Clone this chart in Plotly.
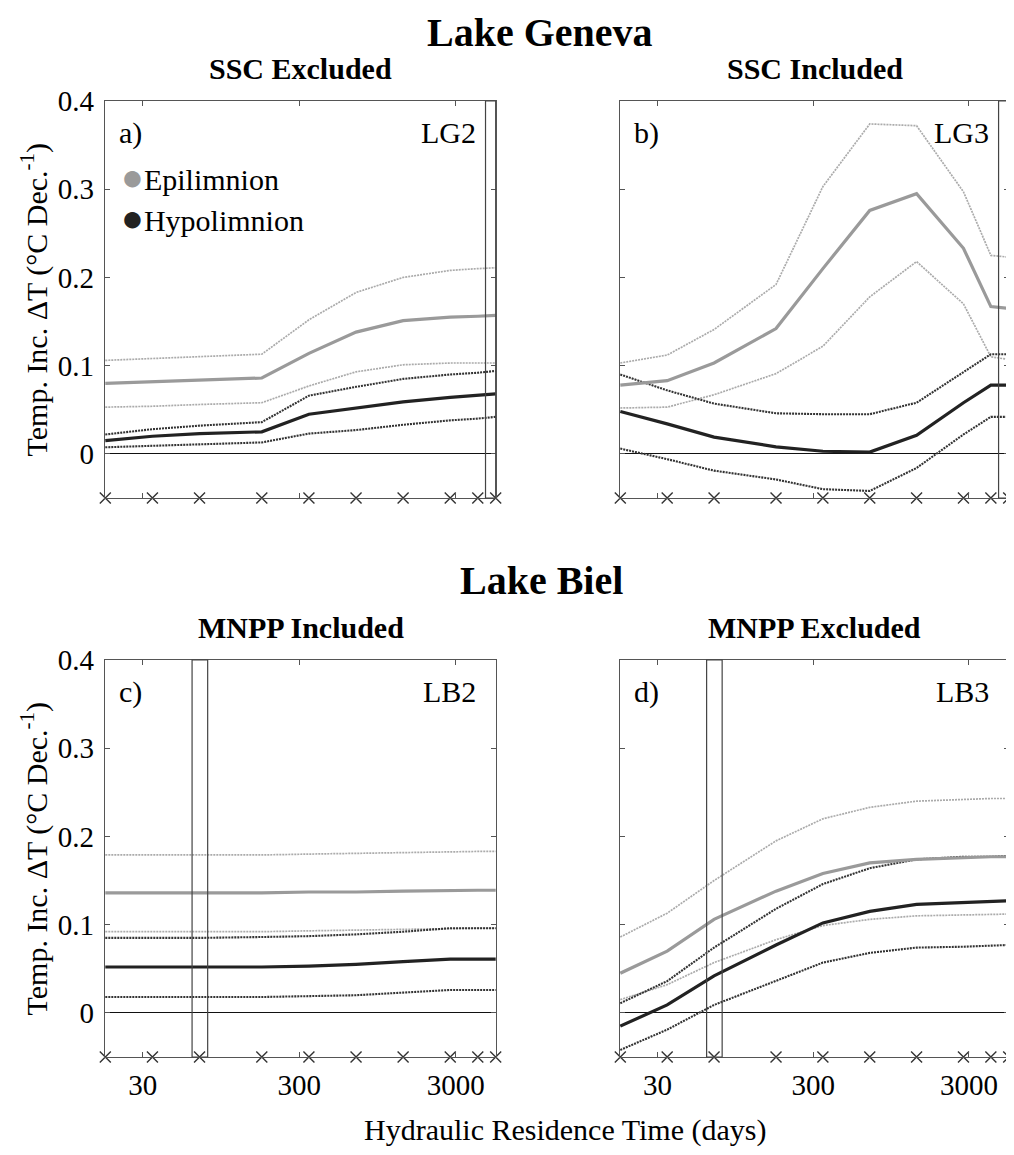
import numpy as np
import plotly.graph_objects as go

# ---------------- data ----------------
res_time = [17.3, 34.6, 69.2, 173, 346, 692, 1383, 2767, 4150, 5400]  # days

# Panel a) LG2 - Lake Geneva, SSC excluded
a_epi_mean = [0.080, 0.082, 0.084, 0.086, 0.114, 0.138, 0.151, 0.155, 0.156, 0.157]
a_epi_up   = [0.106, 0.108, 0.110, 0.113, 0.152, 0.183, 0.200, 0.208, 0.210, 0.211]
a_epi_lo   = [0.053, 0.054, 0.056, 0.058, 0.077, 0.093, 0.101, 0.103, 0.103, 0.103]
a_hyp_mean = [0.015, 0.020, 0.023, 0.025, 0.045, 0.052, 0.059, 0.064, 0.066, 0.068]
a_hyp_up   = [0.022, 0.028, 0.032, 0.036, 0.066, 0.076, 0.085, 0.090, 0.092, 0.094]
a_hyp_lo   = [0.0075, 0.0094, 0.011, 0.013, 0.023, 0.027, 0.033, 0.038, 0.040, 0.042]

# Panel b) LG3 - Lake Geneva, SSC included
b_epi_mean = [0.078, 0.083, 0.103, 0.142, 0.210, 0.276, 0.295, 0.233, 0.167, 0.165]
b_epi_up   = [0.103, 0.112, 0.141, 0.192, 0.303, 0.374, 0.372, 0.297, 0.225, 0.223]
b_epi_lo   = [0.052, 0.053, 0.067, 0.091, 0.122, 0.178, 0.218, 0.170, 0.110, 0.107]
b_hyp_mean = [0.048, 0.034, 0.019, 0.008, 0.003, 0.002, 0.021, 0.058, 0.078, 0.078]
b_hyp_up   = [0.090, 0.072, 0.057, 0.046, 0.045, 0.045, 0.058, 0.093, 0.113, 0.113]
b_hyp_lo   = [0.006, -0.006, -0.019, -0.029, -0.040, -0.042, -0.016, 0.022, 0.042, 0.042]

# Panel c) LB2 - Lake Biel, MNPP included
c_epi_mean = [0.136, 0.136, 0.136, 0.136, 0.137, 0.137, 0.138, 0.139, 0.139, 0.139]
c_epi_up   = [0.179, 0.179, 0.179, 0.179, 0.180, 0.181, 0.182, 0.183, 0.183, 0.183]
c_epi_lo   = [0.092, 0.092, 0.092, 0.092, 0.093, 0.094, 0.095, 0.096, 0.096, 0.096]
c_hyp_mean = [0.052, 0.052, 0.052, 0.052, 0.053, 0.055, 0.058, 0.061, 0.061, 0.061]
c_hyp_up   = [0.085, 0.085, 0.085, 0.086, 0.087, 0.089, 0.092, 0.096, 0.096, 0.096]
c_hyp_lo   = [0.018, 0.018, 0.018, 0.018, 0.019, 0.020, 0.023, 0.026, 0.026, 0.026]

# Panel d) LB3 - Lake Biel, MNPP excluded
d_epi_mean = [0.045, 0.070, 0.106, 0.138, 0.158, 0.170, 0.174, 0.176, 0.177, 0.177]
d_epi_up   = [0.086, 0.113, 0.150, 0.195, 0.220, 0.233, 0.240, 0.242, 0.243, 0.243]
d_epi_lo   = [0.015, 0.032, 0.057, 0.083, 0.099, 0.106, 0.110, 0.111, 0.112, 0.112]
d_hyp_mean = [-0.015, 0.009, 0.042, 0.077, 0.102, 0.115, 0.123, 0.125, 0.126, 0.127]
d_hyp_up   = [0.011, 0.036, 0.074, 0.118, 0.146, 0.164, 0.174, 0.177, 0.177, 0.178]
d_hyp_lo   = [-0.042, -0.019, 0.009, 0.036, 0.057, 0.068, 0.074, 0.075, 0.076, 0.077]

geneva_rt_band = [4650, 5400]   # actual residence time band (days)
biel_rt_band = [62, 78]

panel_letters = ["a)", "b)", "c)", "d)"]
panel_codes = ["LG2", "LG3", "LB2", "LB3"]
sub_titles = ["SSC Excluded", "SSC Included", "MNPP Included", "MNPP Excluded"]
lake_titles = ["Lake Geneva", "Lake Biel"]
xtick_vals = [30, 300, 3000]
xtick_text = ["30", "300", "3000"]
ytick_vals = [0, 0.1, 0.2, 0.3, 0.4]
ytick_text = ["0", "0.1", "0.2", "0.3", "0.4"]

panels = [
    (a_epi_mean, a_epi_up, a_epi_lo, a_hyp_mean, a_hyp_up, a_hyp_lo, geneva_rt_band),
    (b_epi_mean, b_epi_up, b_epi_lo, b_hyp_mean, b_hyp_up, b_hyp_lo, geneva_rt_band),
    (c_epi_mean, c_epi_up, c_epi_lo, c_hyp_mean, c_hyp_up, c_hyp_lo, biel_rt_band),
    (d_epi_mean, d_epi_up, d_epi_lo, d_hyp_mean, d_hyp_up, d_hyp_lo, biel_rt_band),
]

# ---------------- layout geometry ----------------
W, H = 1014, 1155
OFF = 8  # page body margin offset
FONT = "Liberation Serif, Times New Roman, Times, serif"
px_x = [(105, 496), (620, 1009), (105, 496), (620, 1009)]
px_y = [(101, 498), (101, 498), (660, 1057), (660, 1057)]


def fx(px):
    return (px - OFF) / W


def fy(py):
    return 1 - (py - OFF) / H


EPI = "#9a9a9a"
EPI_D = "#ababab"
HYP = "#222222"
HYP_D = "#333333"
FRAME = "#555555"

xr = [np.log10(res_time[0]) - 0.002, np.log10(res_time[-1]) + 0.002]

fig = go.Figure()
layout = dict(
    template="none",
    width=W, height=H, margin=dict(l=0, r=0, t=0, b=0, pad=0, autoexpand=False),
    paper_bgcolor="white", plot_bgcolor="white", showlegend=False,
    font=dict(family=FONT, size=29, color="black"),
)
annotations = []
shapes = []

for i, (em, eu, el, hm, hu, hl, band) in enumerate(panels):
    k = "" if i == 0 else str(i + 1)
    xa, ya = "x" + k, "y" + k
    x0, x1 = px_x[i]
    y0, y1 = px_y[i]
    bottom = i >= 2
    left = i % 2 == 0
    layout["xaxis" + k] = dict(
        domain=[fx(x0), fx(x1)], anchor=ya, type="log", range=xr,
        automargin=False,
        showline=True, linecolor=FRAME, linewidth=1.2, mirror="ticks",
        ticks="inside", ticklen=5, tickcolor=FRAME,
        tickvals=xtick_vals, ticktext=xtick_text, showticklabels=bottom,
        showgrid=False, zeroline=False, tickfont=dict(family=FONT, size=29),
        ticklabelstandoff=2,
    )
    layout["yaxis" + k] = dict(
        domain=[fy(y1), fy(y0)], anchor=xa, range=[-0.05, 0.4],
        automargin=False,
        showline=True, linecolor=FRAME, linewidth=1.2, mirror="ticks",
        ticks="inside", ticklen=5, tickcolor=FRAME,
        tickvals=ytick_vals, ticktext=ytick_text, showticklabels=left,
        showgrid=False, zeroline=True, zerolinecolor="#111111", zerolinewidth=1,
        tickfont=dict(family=FONT, size=29), ticklabelstandoff=4,
    )
    # residence time band
    shapes.append(dict(type="rect", xref=xa, yref=ya + " domain",
                       x0=band[0], x1=band[1], y0=0, y1=1,
                       line=dict(color="#444444", width=1.2), fillcolor="rgba(0,0,0,0)"))
    series = [
        (eu, EPI_D, 1.7, "2px,1px"), (el, EPI_D, 1.7, "2px,1px"),
        (hu, HYP_D, 2.1, "2px,1px"), (hl, HYP_D, 2.1, "2px,1px"),
        (em, EPI, 3.2, "solid"), (hm, HYP, 3.2, "solid"),
    ]
    for ys, col, w, dash in series:
        fig.add_trace(go.Scatter(x=res_time, y=ys, mode="lines", xaxis=xa, yaxis=ya,
                                 line=dict(color=col, width=w, dash=dash),
                                 hoverinfo="skip"))
    # sampled residence times (crosses along bottom)
    fig.add_trace(go.Scatter(x=res_time, y=[-0.05] * len(res_time), mode="markers",
                             xaxis=xa, yaxis=ya, cliponaxis=False,
                             marker=dict(symbol="x-thin", size=11,
                                         line=dict(color="#333333", width=1.4)),
                             hoverinfo="skip"))
    # panel labels
    annotations.append(dict(text=panel_letters[i], xref=xa + " domain", yref=ya + " domain",
                            x=0.03, y=0.92, xanchor="left", yanchor="middle",
                            showarrow=False, font=dict(size=30)))
    annotations.append(dict(text=panel_codes[i], xref=xa + " domain", yref=ya + " domain",
                            x=0.955, y=0.92, xanchor="right", yanchor="middle",
                            showarrow=False, font=dict(size=30)))
    annotations.append(dict(text="<b>%s</b>" % sub_titles[i], xref="paper", yref="paper",
                            x=fx((x0 + x1) / 2), y=fy(68 if i < 2 else 627),
                            xanchor="center", yanchor="middle", showarrow=False,
                            font=dict(size=30)))
    if left:
        annotations.append(dict(text="Temp. Inc. ΔT (°C Dec.<sup>-1</sup>)",
                                xref="paper", yref="paper", x=fx(35),
                                y=fy((y0 + y1) / 2), textangle=-90,
                                xanchor="center", yanchor="middle", showarrow=False,
                                font=dict(size=30)))

# legend (panel a)
annotations.append(dict(text="<span style='color:%s;font-size:38px'>●</span>Epilimnion" % EPI,
                        xref="x domain", yref="y domain", x=0.035, y=0.808,
                        xanchor="left", yanchor="middle", showarrow=False,
                        font=dict(size=30)))
annotations.append(dict(text="<span style='color:%s;font-size:38px'>●</span>Hypolimnion" % HYP,
                        xref="x domain", yref="y domain", x=0.035, y=0.705,
                        xanchor="left", yanchor="middle", showarrow=False,
                        font=dict(size=30)))

# lake titles
annotations.append(dict(text="<b>%s</b>" % lake_titles[0], xref="paper", yref="paper",
                        x=fx(540), y=1.0, xanchor="center", yanchor="top",
                        showarrow=False, font=dict(size=40)))
annotations.append(dict(text="<b>%s</b>" % lake_titles[1], xref="paper", yref="paper",
                        x=fx(541), y=fy(580), xanchor="center", yanchor="middle",
                        showarrow=False, font=dict(size=40)))
# x axis title
annotations.append(dict(text="Hydraulic Residence Time (days)", xref="paper", yref="paper",
                        x=fx(565), y=fy(1130), xanchor="center", yanchor="middle",
                        showarrow=False, font=dict(size=30)))

layout["annotations"] = annotations
layout["shapes"] = shapes
fig.update_layout(**layout)
fig.write_html("out.html")
